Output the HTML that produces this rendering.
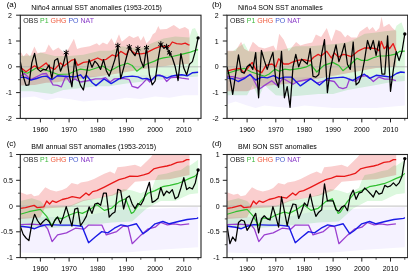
<!DOCTYPE html><html><head><meta charset="utf-8"><style>html,body{margin:0;padding:0;background:#fff;width:408px;height:274px;overflow:hidden}svg{position:absolute;left:0;top:0}text{font-family:"Liberation Sans",sans-serif;font-size:7px}</style></head><body>
<svg width="408" height="274" viewBox="0 0 408 274">
<clipPath id="clipa"><rect x="20.3" y="15.2" width="180.7" height="103.2"/></clipPath>
<g clip-path="url(#clipa)">
<polygon points="20.3,77.1 198.1,74.5 198.1,95.2 183.8,95.2 169.4,97.8 155.1,96.5 140.8,99.1 126.4,97.8 112.1,100.3 97.7,100.3 83.4,101.6 69.1,99.1 57.6,97.8 46.1,100.3 34.6,96.5 20.3,97.8" fill="rgb(245,242,255)" style="mix-blend-mode:multiply"/>
<polygon points="20.3,56.0 34.6,55.2 40.4,52.6 54.7,56.0 69.1,56.0 83.4,54.7 100.0,50.8 110.9,50.8 121.8,46.2 130.4,47.5 140.8,48.2 152.2,43.1 163.7,38.4 175.2,36.4 189.5,37.4 192.1,28.9 195.0,28.1 198.1,34.5 198.1,76.6 183.8,77.6 155.1,80.2 126.4,83.6 109.2,86.2 97.7,86.2 86.3,87.4 74.8,88.7 63.3,90.0 51.9,93.9 40.4,92.6 31.8,91.3 20.3,91.3" fill="rgb(220,248,222)" style="mix-blend-mode:multiply"/>
<polygon points="20.3,50.9 23.5,56.5 26.6,53.1 30.1,56.5 34.4,46.4 37.5,53.1 45.3,52.1 48.7,44.4 53.0,50.8 58.4,47.5 64.2,53.1 68.5,48.7 73.9,38.7 77.1,49.0 80.8,47.7 89.7,46.2 96.9,43.3 99.2,45.4 102.9,42.5 107.2,44.6 111.5,38.2 114.7,44.6 119.0,34.3 121.8,41.8 129.3,35.8 133.6,37.9 138.2,36.1 140.8,40.7 143.6,36.1 146.5,43.6 149.9,40.0 152.8,34.3 155.4,32.5 158.3,26.0 160.0,29.6 166.6,28.9 173.8,25.0 179.5,28.9 184.9,27.1 188.7,29.6 189.5,35.3 189.5,63.7 169.4,65.5 140.8,69.4 112.1,74.5 83.4,78.4 69.1,79.7 57.6,82.3 46.1,82.8 34.6,84.9 20.3,85.4" fill="rgb(250,206,206)" style="mix-blend-mode:multiply"/>
<line x1="20.3" y1="66.8" x2="201.0" y2="66.8" stroke="#b0b0b0" stroke-width="0.8"/>
<polyline points="20.3,76.3 24.3,73.5 30.9,79.7 42.1,74.0 46.4,73.5 48.7,77.4 53.0,84.9 57.6,85.4 61.3,86.9 65.9,76.1 69.9,82.3 74.8,78.9 80.5,82.0 89.4,80.5 95.4,78.9 101.2,78.9 105.5,77.6 110.1,82.0 114.4,78.9 123.3,78.4 129.3,79.7 132.2,86.4 137.9,88.0 142.5,83.6 146.8,78.9 149.7,82.0 155.4,76.1 159.7,74.8 163.4,76.9 166.6,81.5 170.9,77.6 176.3,77.1 181.8,78.2 189.0,79.2" fill="none" stroke="#9a3fd0" stroke-width="1.3" stroke-linejoin="round"/>
<polyline points="20.3,77.4 25.5,77.4 30.9,80.2 36.6,78.5 42.1,76.6 46.4,76.1 51.9,79.7 57.3,75.8 63.9,76.3 74.8,76.9 80.5,74.8 83.4,78.4 86.3,75.3 92.3,82.8 96.0,85.6 104.1,78.9 111.2,83.6 119.0,78.9 124.7,76.9 132.2,76.1 137.9,76.9 142.5,78.9 146.8,78.4 151.1,80.5 156.8,75.3 162.6,76.1 166.9,78.2 170.9,76.3 176.3,75.3 181.8,74.8 187.2,75.8 192.7,72.7 198.1,72.2" fill="none" stroke="#1a1ae6" stroke-width="1.4" stroke-linejoin="round"/>
<polyline points="20.3,70.9 27.5,73.2 37.5,67.3 46.4,70.3 58.2,74.5 68.5,74.0 75.7,70.7 80.5,69.1 89.4,70.3 102.6,66.0 110.1,71.0 119.0,66.0 127.6,63.2 132.2,65.5 136.8,71.2 145.6,64.5 154.5,61.1 158.5,59.1 163.4,57.8 172.3,56.5 181.5,54.4 190.4,52.1 197.0,49.8 198.1,49.8" fill="none" stroke="#2fbf2f" stroke-width="1.2" stroke-linejoin="round"/>
<polyline points="20.3,67.3 26.0,71.7 34.6,65.8 38.7,68.6 46.1,62.9 49.0,66.8 54.7,69.4 60.5,62.9 63.9,66.0 71.9,60.1 74.8,59.4 77.7,65.3 83.4,62.4 89.1,61.6 97.7,58.0 102.0,60.1 106.3,59.3 112.1,54.9 116.4,56.5 120.7,51.3 126.4,54.9 129.3,49.0 135.0,53.4 140.8,53.9 145.6,53.1 154.5,48.7 159.7,46.7 163.4,46.4 169.4,46.2 172.3,42.0 176.6,43.6 181.5,44.1 185.2,43.1 188.1,44.6 189.5,45.1" fill="none" stroke="#e81818" stroke-width="1.3" stroke-linejoin="round"/>
<polyline points="20.3,61.6 23.2,76.3 26.0,85.4 28.9,84.9 31.8,62.9 34.6,53.4 37.5,68.9 40.4,71.4 43.2,69.4 46.1,69.9 49.0,65.0 51.9,78.4 54.7,60.4 57.6,58.5 60.5,71.2 63.3,64.2 66.2,52.6 69.1,74.5 71.9,86.9 74.8,58.8 77.7,77.1 80.5,85.4 83.4,90.0 86.3,74.5 89.1,59.6 92.0,67.3 94.9,61.1 97.7,64.2 100.6,69.4 103.5,59.6 106.3,70.7 109.2,76.1 112.1,68.1 115.0,59.1 117.8,45.6 120.7,78.7 123.6,68.1 126.4,57.5 129.3,46.9 132.2,52.1 135.0,55.7 137.9,48.5 140.8,60.4 143.6,67.3 146.5,47.7 149.4,74.5 152.2,84.9 155.1,81.0 158.0,60.1 160.8,44.1 163.7,48.2 166.6,46.7 169.4,52.9 172.3,57.8 175.2,66.8 178.1,80.5 180.9,53.6 183.8,68.1 186.7,74.8 189.5,64.2 192.4,61.6 195.3,51.3 198.1,37.9" fill="none" stroke="#000" stroke-width="1.25" stroke-linejoin="round"/>
<circle cx="198.1" cy="37.9" r="1.7" fill="#000"/>
<line x1="66.19" y1="49.71" x2="66.19" y2="55.51" stroke="#000" stroke-width="1.0"/>
<line x1="63.68" y1="51.16" x2="68.70" y2="54.06" stroke="#000" stroke-width="1.0"/>
<line x1="63.68" y1="54.06" x2="68.70" y2="51.16" stroke="#000" stroke-width="1.0"/>
<line x1="117.82" y1="42.74" x2="117.82" y2="48.54" stroke="#000" stroke-width="1.0"/>
<line x1="115.31" y1="44.19" x2="120.33" y2="47.09" stroke="#000" stroke-width="1.0"/>
<line x1="115.31" y1="47.09" x2="120.33" y2="44.19" stroke="#000" stroke-width="1.0"/>
<line x1="129.29" y1="44.03" x2="129.29" y2="49.83" stroke="#000" stroke-width="1.0"/>
<line x1="126.78" y1="45.48" x2="131.81" y2="48.38" stroke="#000" stroke-width="1.0"/>
<line x1="126.78" y1="48.38" x2="131.81" y2="45.48" stroke="#000" stroke-width="1.0"/>
<line x1="137.90" y1="45.58" x2="137.90" y2="51.38" stroke="#000" stroke-width="1.0"/>
<line x1="135.39" y1="47.03" x2="140.41" y2="49.93" stroke="#000" stroke-width="1.0"/>
<line x1="135.39" y1="49.93" x2="140.41" y2="47.03" stroke="#000" stroke-width="1.0"/>
<line x1="146.50" y1="44.81" x2="146.50" y2="50.61" stroke="#000" stroke-width="1.0"/>
<line x1="143.99" y1="46.26" x2="149.01" y2="49.16" stroke="#000" stroke-width="1.0"/>
<line x1="143.99" y1="49.16" x2="149.01" y2="46.26" stroke="#000" stroke-width="1.0"/>
<line x1="160.84" y1="41.20" x2="160.84" y2="47.00" stroke="#000" stroke-width="1.0"/>
<line x1="158.33" y1="42.65" x2="163.36" y2="45.55" stroke="#000" stroke-width="1.0"/>
<line x1="158.33" y1="45.55" x2="163.36" y2="42.65" stroke="#000" stroke-width="1.0"/>
<line x1="166.58" y1="43.78" x2="166.58" y2="49.58" stroke="#000" stroke-width="1.0"/>
<line x1="164.07" y1="45.23" x2="169.09" y2="48.13" stroke="#000" stroke-width="1.0"/>
<line x1="164.07" y1="48.13" x2="169.09" y2="45.23" stroke="#000" stroke-width="1.0"/>
<line x1="169.45" y1="49.97" x2="169.45" y2="55.77" stroke="#000" stroke-width="1.0"/>
<line x1="166.94" y1="51.42" x2="171.96" y2="54.32" stroke="#000" stroke-width="1.0"/>
<line x1="166.94" y1="54.32" x2="171.96" y2="51.42" stroke="#000" stroke-width="1.0"/>
</g>
<rect x="20.3" y="15.2" width="180.7" height="103.2" fill="none" stroke="#222" stroke-width="1.1"/>
<line x1="16.1" y1="118.4" x2="20.3" y2="118.4" stroke="#222" stroke-width="1"/>
<text x="12.0" y="120.9" text-anchor="end">-2</text>
<line x1="16.1" y1="92.6" x2="20.3" y2="92.6" stroke="#222" stroke-width="1"/>
<text x="12.0" y="95.1" text-anchor="end">-1</text>
<line x1="16.1" y1="66.8" x2="20.3" y2="66.8" stroke="#222" stroke-width="1"/>
<text x="12.0" y="69.3" text-anchor="end">0</text>
<line x1="16.1" y1="41.0" x2="20.3" y2="41.0" stroke="#222" stroke-width="1"/>
<text x="12.0" y="43.5" text-anchor="end">1</text>
<line x1="16.1" y1="15.2" x2="20.3" y2="15.2" stroke="#222" stroke-width="1"/>
<text x="12.0" y="17.7" text-anchor="end">2</text>
<line x1="18.1" y1="105.5" x2="20.3" y2="105.5" stroke="#222" stroke-width="0.8"/>
<line x1="18.1" y1="79.7" x2="20.3" y2="79.7" stroke="#222" stroke-width="0.8"/>
<line x1="18.1" y1="53.9" x2="20.3" y2="53.9" stroke="#222" stroke-width="0.8"/>
<line x1="18.1" y1="28.1" x2="20.3" y2="28.1" stroke="#222" stroke-width="0.8"/>
<line x1="26.0" y1="118.4" x2="26.0" y2="120.60000000000001" stroke="#222" stroke-width="0.8"/>
<line x1="40.4" y1="118.4" x2="40.4" y2="122.4" stroke="#222" stroke-width="1"/>
<text x="40.4" y="131.7" text-anchor="middle">1960</text>
<line x1="54.7" y1="118.4" x2="54.7" y2="120.60000000000001" stroke="#222" stroke-width="0.8"/>
<line x1="69.1" y1="118.4" x2="69.1" y2="122.4" stroke="#222" stroke-width="1"/>
<text x="69.1" y="131.7" text-anchor="middle">1970</text>
<line x1="83.4" y1="118.4" x2="83.4" y2="120.60000000000001" stroke="#222" stroke-width="0.8"/>
<line x1="97.7" y1="118.4" x2="97.7" y2="122.4" stroke="#222" stroke-width="1"/>
<text x="97.7" y="131.7" text-anchor="middle">1980</text>
<line x1="112.1" y1="118.4" x2="112.1" y2="120.60000000000001" stroke="#222" stroke-width="0.8"/>
<line x1="126.4" y1="118.4" x2="126.4" y2="122.4" stroke="#222" stroke-width="1"/>
<text x="126.4" y="131.7" text-anchor="middle">1990</text>
<line x1="140.8" y1="118.4" x2="140.8" y2="120.60000000000001" stroke="#222" stroke-width="0.8"/>
<line x1="155.1" y1="118.4" x2="155.1" y2="122.4" stroke="#222" stroke-width="1"/>
<text x="155.1" y="131.7" text-anchor="middle">2000</text>
<line x1="169.4" y1="118.4" x2="169.4" y2="120.60000000000001" stroke="#222" stroke-width="0.8"/>
<line x1="183.8" y1="118.4" x2="183.8" y2="122.4" stroke="#222" stroke-width="1"/>
<text x="183.8" y="131.7" text-anchor="middle">2010</text>
<line x1="198.1" y1="118.4" x2="198.1" y2="120.60000000000001" stroke="#222" stroke-width="0.8"/>
<text x="6.7" y="6.7" style="font-size:8px">(a)</text>
<text x="31.3" y="10.0">Niño4 annual SST anomalies (1953-2015)</text>
<text x="23.3" y="22.6"><tspan fill="#222">OBS </tspan><tspan fill="#3cb83c">P1 </tspan><tspan fill="#f05a3c">GHG </tspan><tspan fill="#4a5fd0">PO </tspan><tspan fill="#8a3cc8">NAT</tspan></text>
<clipPath id="clipb"><rect x="227.0" y="15.2" width="180.7" height="103.2"/></clipPath>
<g clip-path="url(#clipb)">
<polygon points="227.0,78.4 404.8,75.8 404.8,105.5 390.5,106.8 376.1,108.1 361.8,108.1 347.5,108.1 333.1,108.1 318.8,106.8 304.4,105.5 290.1,108.1 275.8,106.8 264.3,105.5 255.7,108.1 247.1,105.5 235.6,101.6 227.0,104.2" fill="rgb(245,242,255)" style="mix-blend-mode:multiply"/>
<polygon points="227.0,51.3 232.7,51.3 238.5,46.9 244.2,43.3 248.5,51.3 261.4,52.1 281.5,50.0 295.8,46.2 310.2,46.2 324.5,44.9 338.9,43.6 347.5,42.3 356.1,38.4 364.7,33.8 376.1,32.5 384.8,31.2 394.8,30.2 396.5,25.8 401.4,22.2 404.8,31.5 404.8,81.0 390.5,82.3 376.1,84.9 361.8,87.4 347.5,90.0 333.1,93.9 318.8,93.9 304.4,95.2 290.1,96.5 275.8,95.2 264.3,84.9 258.6,97.8 252.8,84.9 247.1,95.2 227.0,95.2" fill="rgb(220,248,222)" style="mix-blend-mode:multiply"/>
<polygon points="227.0,50.8 235.6,50.8 241.1,41.8 244.2,48.7 248.5,51.3 252.8,41.8 258.8,46.9 264.6,48.5 269.2,46.9 273.5,45.4 276.3,50.8 279.2,33.8 283.8,39.7 288.7,51.3 296.1,42.0 300.4,45.6 305.0,44.1 312.2,42.5 315.9,34.5 321.1,36.9 326.8,28.1 331.4,41.3 335.7,29.4 340.9,31.7 345.2,37.6 347.5,34.8 351.2,37.6 356.9,37.6 359.8,31.7 367.3,26.6 369.3,29.9 372.7,27.1 375.9,31.5 379.3,28.1 381.6,16.7 383.6,27.1 389.1,23.7 392.5,28.1 394.8,29.9 396.2,30.7 396.2,66.8 376.1,68.1 347.5,73.2 318.8,78.4 290.1,83.6 261.4,86.2 247.1,91.3 227.0,91.3" fill="rgb(250,206,206)" style="mix-blend-mode:multiply"/>
<line x1="227.0" y1="66.8" x2="407.7" y2="66.8" stroke="#b0b0b0" stroke-width="0.8"/>
<polyline points="227.0,76.3 232.7,76.6 239.9,78.7 245.6,77.1 250.8,74.5 258.8,89.5 264.6,85.4 271.7,80.7 277.2,85.6 282.9,78.4 287.2,80.7 293.0,84.3 297.6,81.5 305.0,80.0 310.8,78.7 316.8,83.1 326.8,80.0 334.3,81.5 338.9,87.4 342.9,88.7 346.6,87.4 349.5,79.2 355.5,81.5 361.5,76.3 367.3,75.6 373.3,81.5 379.0,77.1 384.8,79.2 390.8,79.2 395.9,80.7" fill="none" stroke="#9a3fd0" stroke-width="1.3" stroke-linejoin="round"/>
<polyline points="227.0,77.9 232.7,78.7 238.2,81.5 244.2,78.7 249.9,74.5 255.7,80.0 261.7,77.1 267.4,77.9 273.5,75.6 279.2,78.7 284.9,77.1 291.5,77.1 300.4,85.9 310.8,78.7 319.6,85.1 326.8,78.7 334.3,77.9 342.9,77.1 346.0,77.9 352.6,80.7 358.4,77.1 364.4,74.2 369.8,78.4 376.1,75.3 384.8,76.3 390.8,77.1 396.5,73.5 400.8,72.0 404.8,72.5" fill="none" stroke="#1a1ae6" stroke-width="1.4" stroke-linejoin="round"/>
<polyline points="227.0,73.5 233.9,71.2 244.2,68.3 251.4,72.0 257.4,74.0 264.6,76.3 269.2,74.0 274.9,69.1 279.2,71.2 284.9,69.1 290.1,69.8 300.4,68.3 306.5,66.8 310.8,64.6 316.8,72.0 323.9,65.4 332.8,62.4 337.1,64.6 338.9,65.5 342.9,70.7 349.5,65.5 356.9,58.3 361.5,60.4 367.3,60.4 373.3,57.8 379.0,56.0 384.8,56.0 390.8,55.2 396.5,53.9 399.7,51.3 404.8,51.1" fill="none" stroke="#2fbf2f" stroke-width="1.2" stroke-linejoin="round"/>
<polyline points="227.0,71.2 232.4,69.6 239.6,68.3 244.2,72.7 252.2,62.4 255.7,69.6 261.7,72.7 266.0,65.3 272.0,64.0 275.8,66.8 278.6,58.8 283.8,64.0 288.7,64.0 291.8,62.4 297.6,60.4 303.6,59.6 310.2,61.1 313.6,57.3 318.2,54.4 321.1,56.0 326.8,51.3 331.4,58.0 334.3,52.9 338.6,57.3 342.9,54.4 345.2,54.7 351.2,56.7 358.4,50.8 364.4,48.0 370.4,48.0 376.1,48.7 379.0,50.8 381.3,41.3 384.2,48.7 387.0,45.6 389.6,48.7 393.1,43.6 395.9,50.8" fill="none" stroke="#e81818" stroke-width="1.3" stroke-linejoin="round"/>
<polyline points="227.0,66.8 229.9,78.4 232.7,94.4 235.6,74.5 238.5,54.9 241.3,72.0 244.2,73.2 247.1,66.8 249.9,64.2 252.8,69.4 255.7,52.6 258.6,97.8 261.4,50.5 264.3,60.4 267.2,69.4 270.0,60.4 272.9,52.4 275.8,79.7 278.6,87.4 281.5,51.3 284.4,97.8 287.2,86.7 290.1,107.3 293.0,66.8 295.8,54.4 298.7,66.8 301.6,59.1 304.4,61.6 307.3,64.0 310.2,48.5 313.0,76.3 315.9,77.1 318.8,74.5 321.7,53.9 324.5,39.7 327.4,92.6 330.3,69.4 333.1,56.5 336.0,44.9 338.9,61.6 341.7,53.9 344.6,43.6 347.5,64.5 350.3,69.4 353.2,42.0 356.1,84.9 358.9,82.3 361.8,74.5 364.7,59.1 367.5,40.5 370.4,49.5 373.3,40.5 376.1,55.4 379.0,41.0 381.9,74.0 384.8,74.0 387.6,35.8 390.5,91.3 393.4,69.4 396.2,51.3 399.1,60.6 402.0,51.3 404.8,34.0" fill="none" stroke="#000" stroke-width="1.25" stroke-linejoin="round"/>
<circle cx="404.8" cy="34.0" r="1.7" fill="#000"/>
</g>
<rect x="227.0" y="15.2" width="180.7" height="103.2" fill="none" stroke="#222" stroke-width="1.1"/>
<line x1="222.8" y1="118.4" x2="227.0" y2="118.4" stroke="#222" stroke-width="1"/>
<text x="218.7" y="120.9" text-anchor="end">-2</text>
<line x1="222.8" y1="92.6" x2="227.0" y2="92.6" stroke="#222" stroke-width="1"/>
<text x="218.7" y="95.1" text-anchor="end">-1</text>
<line x1="222.8" y1="66.8" x2="227.0" y2="66.8" stroke="#222" stroke-width="1"/>
<text x="218.7" y="69.3" text-anchor="end">0</text>
<line x1="222.8" y1="41.0" x2="227.0" y2="41.0" stroke="#222" stroke-width="1"/>
<text x="218.7" y="43.5" text-anchor="end">1</text>
<line x1="222.8" y1="15.2" x2="227.0" y2="15.2" stroke="#222" stroke-width="1"/>
<text x="218.7" y="17.7" text-anchor="end">2</text>
<line x1="224.8" y1="105.5" x2="227.0" y2="105.5" stroke="#222" stroke-width="0.8"/>
<line x1="224.8" y1="79.7" x2="227.0" y2="79.7" stroke="#222" stroke-width="0.8"/>
<line x1="224.8" y1="53.9" x2="227.0" y2="53.9" stroke="#222" stroke-width="0.8"/>
<line x1="224.8" y1="28.1" x2="227.0" y2="28.1" stroke="#222" stroke-width="0.8"/>
<line x1="232.7" y1="118.4" x2="232.7" y2="120.60000000000001" stroke="#222" stroke-width="0.8"/>
<line x1="247.1" y1="118.4" x2="247.1" y2="122.4" stroke="#222" stroke-width="1"/>
<text x="247.1" y="131.7" text-anchor="middle">1960</text>
<line x1="261.4" y1="118.4" x2="261.4" y2="120.60000000000001" stroke="#222" stroke-width="0.8"/>
<line x1="275.8" y1="118.4" x2="275.8" y2="122.4" stroke="#222" stroke-width="1"/>
<text x="275.8" y="131.7" text-anchor="middle">1970</text>
<line x1="290.1" y1="118.4" x2="290.1" y2="120.60000000000001" stroke="#222" stroke-width="0.8"/>
<line x1="304.4" y1="118.4" x2="304.4" y2="122.4" stroke="#222" stroke-width="1"/>
<text x="304.4" y="131.7" text-anchor="middle">1980</text>
<line x1="318.8" y1="118.4" x2="318.8" y2="120.60000000000001" stroke="#222" stroke-width="0.8"/>
<line x1="333.1" y1="118.4" x2="333.1" y2="122.4" stroke="#222" stroke-width="1"/>
<text x="333.1" y="131.7" text-anchor="middle">1990</text>
<line x1="347.5" y1="118.4" x2="347.5" y2="120.60000000000001" stroke="#222" stroke-width="0.8"/>
<line x1="361.8" y1="118.4" x2="361.8" y2="122.4" stroke="#222" stroke-width="1"/>
<text x="361.8" y="131.7" text-anchor="middle">2000</text>
<line x1="376.1" y1="118.4" x2="376.1" y2="120.60000000000001" stroke="#222" stroke-width="0.8"/>
<line x1="390.5" y1="118.4" x2="390.5" y2="122.4" stroke="#222" stroke-width="1"/>
<text x="390.5" y="131.7" text-anchor="middle">2010</text>
<line x1="404.8" y1="118.4" x2="404.8" y2="120.60000000000001" stroke="#222" stroke-width="0.8"/>
<text x="212.0" y="6.7" style="font-size:8px">(b)</text>
<text x="238.0" y="10.0">Niño4 SON SST anomalies</text>
<text x="230.0" y="22.6"><tspan fill="#222">OBS </tspan><tspan fill="#3cb83c">P1 </tspan><tspan fill="#f05a3c">GHG </tspan><tspan fill="#4a5fd0">PO </tspan><tspan fill="#8a3cc8">NAT</tspan></text>
<clipPath id="clipc"><rect x="20.3" y="154.5" width="180.7" height="103.10000000000002"/></clipPath>
<g clip-path="url(#clipc)">
<polygon points="20.3,217.4 83.4,216.4 112.1,210.2 198.1,207.1 198.1,247.3 155.1,249.9 126.4,252.4 83.4,253.5 54.7,253.5 20.3,252.4" fill="rgb(245,242,255)" style="mix-blend-mode:multiply"/>
<polygon points="20.3,200.9 31.8,198.3 40.4,200.9 46.1,207.1 69.1,206.1 83.4,199.9 97.7,198.3 112.1,194.7 123.6,189.0 132.2,190.6 140.8,193.2 152.2,188.0 155.1,180.3 158.0,175.1 166.6,173.6 175.2,171.0 180.9,170.0 187.5,165.3 189.5,165.8 194.7,162.2 198.1,159.7 198.1,193.2 189.5,194.2 175.2,200.9 160.8,200.9 146.5,208.6 132.2,221.5 112.1,222.5 83.4,225.6 54.7,227.7 20.3,226.7" fill="rgb(220,248,222)" style="mix-blend-mode:multiply"/>
<polygon points="20.3,192.3 26.9,194.7 31.2,193.8 34.1,196.3 38.7,195.2 45.3,187.2 50.4,190.1 56.2,191.6 62.2,190.1 66.5,188.0 71.6,182.9 77.7,184.4 80.8,182.6 88.0,181.2 94.0,178.9 98.3,176.8 104.3,173.8 110.1,171.6 114.7,173.8 117.5,167.2 124.7,166.5 135.0,164.8 140.8,166.9 146.5,161.6 150.8,157.2 155.1,151.9 189.5,149.3 189.5,175.1 169.4,179.2 152.2,180.3 135.0,181.8 126.4,190.6 112.1,195.7 97.7,198.3 83.4,200.9 69.1,207.1 44.7,208.6 40.4,217.4 20.3,218.9" fill="rgb(250,206,206)" style="mix-blend-mode:multiply"/>
<line x1="20.3" y1="206.1" x2="201.0" y2="206.1" stroke="#b0b0b0" stroke-width="0.8"/>
<polyline points="20.3,224.6 31.8,224.1 44.7,225.1 47.8,229.2 52.1,241.6 57.6,234.9 66.5,232.9 75.4,228.2 84.0,229.2 88.6,225.1 101.8,225.1 106.3,234.9 116.7,231.6 123.3,226.1 128.1,226.7 132.2,243.7 141.1,234.9 147.7,229.2 155.1,227.2 160.6,222.5 167.4,224.9 174.0,223.8 180.6,224.9 189.2,223.8" fill="none" stroke="#9a3fd0" stroke-width="1.3" stroke-linejoin="round"/>
<polyline points="20.3,226.2 28.9,227.2 34.6,228.7 40.4,226.2 46.7,224.6 62.2,225.1 71.9,225.1 82.0,226.2 88.6,242.7 95.2,237.0 101.8,231.6 107.8,232.9 114.4,228.2 121.0,224.9 127.6,226.1 136.5,223.8 143.1,233.8 147.7,230.5 155.1,223.8 162.9,221.5 169.4,223.8 178.3,221.5 187.2,219.5 197.0,218.4 198.1,217.4" fill="none" stroke="#1a1ae6" stroke-width="1.4" stroke-linejoin="round"/>
<polyline points="20.3,214.3 28.9,211.7 40.4,209.4 46.7,216.4 51.9,225.6 56.2,217.9 62.2,218.7 69.3,215.0 77.7,212.0 82.3,213.4 89.7,209.7 96.9,204.6 104.3,210.4 111.5,208.3 119.0,201.6 125.6,198.7 131.3,213.4 133.6,212.2 140.8,201.4 147.9,193.2 155.1,190.6 162.6,186.7 169.7,185.4 177.2,183.7 182.9,181.5 189.0,178.6 194.7,176.4 198.1,173.4" fill="none" stroke="#2fbf2f" stroke-width="1.2" stroke-linejoin="round"/>
<polyline points="20.3,208.4 25.5,207.6 34.1,205.4 37.2,207.6 43.8,206.9 46.7,201.0 49.6,204.0 52.4,200.9 56.2,202.4 62.2,199.5 67.9,198.1 72.2,196.6 80.0,198.1 86.0,193.0 88.9,195.2 92.6,191.6 96.9,190.7 104.3,187.1 111.5,183.4 119.0,179.7 124.7,178.2 129.9,176.2 137.6,176.4 143.6,174.9 148.5,173.4 153.7,168.9 159.4,167.4 166.9,166.0 171.2,164.8 177.2,162.4 182.9,161.7 186.7,159.7 189.5,159.7" fill="none" stroke="#e81818" stroke-width="1.3" stroke-linejoin="round"/>
<polyline points="20.3,226.2 23.2,234.4 26.0,238.0 28.9,240.6 31.8,224.1 34.6,214.3 37.5,220.5 40.4,224.6 43.2,221.5 46.1,218.9 49.0,221.5 51.9,226.7 54.7,220.5 57.6,216.9 60.5,223.6 63.3,216.4 66.2,206.6 69.1,216.4 71.9,226.2 74.8,209.1 77.7,208.1 80.5,225.6 83.4,221.5 86.3,216.4 89.1,206.8 92.0,213.4 94.9,204.0 97.7,203.1 100.6,205.3 103.5,193.2 106.3,193.2 109.2,217.1 112.1,213.8 115.0,211.9 117.8,189.3 120.7,190.6 123.6,209.0 126.4,198.0 129.3,195.9 132.2,204.0 135.0,208.6 137.9,203.5 140.8,205.0 143.6,199.9 146.5,190.6 149.4,182.3 152.2,202.4 155.1,200.9 158.0,198.3 160.8,187.5 163.7,195.7 166.6,191.1 169.4,193.2 172.3,189.6 175.2,198.8 178.1,196.8 180.9,188.0 183.8,177.7 186.7,189.6 189.5,187.5 192.4,189.0 195.3,182.9 198.1,170.0" fill="none" stroke="#000" stroke-width="1.25" stroke-linejoin="round"/>
<circle cx="198.1" cy="170.0" r="1.7" fill="#000"/>
</g>
<rect x="20.3" y="154.5" width="180.7" height="103.10000000000002" fill="none" stroke="#222" stroke-width="1.1"/>
<line x1="16.1" y1="257.6" x2="20.3" y2="257.6" stroke="#222" stroke-width="1"/>
<text x="12.9" y="260.1" text-anchor="end">-1</text>
<line x1="16.1" y1="231.8" x2="20.3" y2="231.8" stroke="#222" stroke-width="1"/>
<text x="12.9" y="234.3" text-anchor="end">-0.5</text>
<line x1="16.1" y1="206.1" x2="20.3" y2="206.1" stroke="#222" stroke-width="1"/>
<text x="12.9" y="208.6" text-anchor="end">0</text>
<line x1="16.1" y1="180.3" x2="20.3" y2="180.3" stroke="#222" stroke-width="1"/>
<text x="12.9" y="182.8" text-anchor="end">0.5</text>
<line x1="16.1" y1="154.5" x2="20.3" y2="154.5" stroke="#222" stroke-width="1"/>
<text x="12.9" y="157.0" text-anchor="end">1</text>
<line x1="18.1" y1="244.7" x2="20.3" y2="244.7" stroke="#222" stroke-width="0.8"/>
<line x1="18.1" y1="218.9" x2="20.3" y2="218.9" stroke="#222" stroke-width="0.8"/>
<line x1="18.1" y1="193.2" x2="20.3" y2="193.2" stroke="#222" stroke-width="0.8"/>
<line x1="18.1" y1="167.4" x2="20.3" y2="167.4" stroke="#222" stroke-width="0.8"/>
<line x1="26.0" y1="257.6" x2="26.0" y2="259.8" stroke="#222" stroke-width="0.8"/>
<line x1="40.4" y1="257.6" x2="40.4" y2="261.6" stroke="#222" stroke-width="1"/>
<text x="40.4" y="270.9" text-anchor="middle">1960</text>
<line x1="54.7" y1="257.6" x2="54.7" y2="259.8" stroke="#222" stroke-width="0.8"/>
<line x1="69.1" y1="257.6" x2="69.1" y2="261.6" stroke="#222" stroke-width="1"/>
<text x="69.1" y="270.9" text-anchor="middle">1970</text>
<line x1="83.4" y1="257.6" x2="83.4" y2="259.8" stroke="#222" stroke-width="0.8"/>
<line x1="97.7" y1="257.6" x2="97.7" y2="261.6" stroke="#222" stroke-width="1"/>
<text x="97.7" y="270.9" text-anchor="middle">1980</text>
<line x1="112.1" y1="257.6" x2="112.1" y2="259.8" stroke="#222" stroke-width="0.8"/>
<line x1="126.4" y1="257.6" x2="126.4" y2="261.6" stroke="#222" stroke-width="1"/>
<text x="126.4" y="270.9" text-anchor="middle">1990</text>
<line x1="140.8" y1="257.6" x2="140.8" y2="259.8" stroke="#222" stroke-width="0.8"/>
<line x1="155.1" y1="257.6" x2="155.1" y2="261.6" stroke="#222" stroke-width="1"/>
<text x="155.1" y="270.9" text-anchor="middle">2000</text>
<line x1="169.4" y1="257.6" x2="169.4" y2="259.8" stroke="#222" stroke-width="0.8"/>
<line x1="183.8" y1="257.6" x2="183.8" y2="261.6" stroke="#222" stroke-width="1"/>
<text x="183.8" y="270.9" text-anchor="middle">2010</text>
<line x1="198.1" y1="257.6" x2="198.1" y2="259.8" stroke="#222" stroke-width="0.8"/>
<text x="6.7" y="146.0" style="font-size:8px">(c)</text>
<text x="31.3" y="149.3">BMI annual SST anomalies (1953-2015)</text>
<text x="23.3" y="161.9"><tspan fill="#222">OBS </tspan><tspan fill="#3cb83c">P1 </tspan><tspan fill="#f05a3c">GHG </tspan><tspan fill="#4a5fd0">PO </tspan><tspan fill="#8a3cc8">NAT</tspan></text>
<clipPath id="clipd"><rect x="227.0" y="154.5" width="180.7" height="103.10000000000002"/></clipPath>
<g clip-path="url(#clipd)">
<polygon points="227.0,217.4 290.1,216.4 318.8,210.2 404.8,207.1 404.8,247.3 361.8,249.9 333.1,252.4 290.1,253.5 261.4,253.5 227.0,252.4" fill="rgb(245,242,255)" style="mix-blend-mode:multiply"/>
<polygon points="227.0,200.9 238.5,198.3 247.1,200.9 252.8,207.1 275.8,206.1 290.1,199.9 304.4,198.3 318.8,194.7 330.3,189.0 338.9,190.6 347.5,193.2 358.9,188.0 361.8,180.3 364.7,175.1 373.3,173.6 381.9,171.0 387.6,170.0 394.2,165.3 396.2,165.8 401.4,162.2 404.8,159.7 404.8,193.2 396.2,194.2 381.9,200.9 367.5,200.9 353.2,208.6 338.9,221.5 318.8,222.5 290.1,225.6 261.4,227.7 227.0,226.7" fill="rgb(220,248,222)" style="mix-blend-mode:multiply"/>
<polygon points="227.0,192.3 233.6,194.7 237.9,193.8 240.8,196.3 245.4,195.2 252.0,187.2 257.1,190.1 262.9,191.6 268.9,190.1 273.2,188.0 278.3,182.9 284.4,184.4 287.5,182.6 294.7,181.2 300.7,178.9 305.0,176.8 311.0,173.8 316.8,171.6 321.4,173.8 324.2,167.2 331.4,166.5 341.7,164.8 347.5,166.9 353.2,161.6 357.5,157.2 361.8,151.9 396.2,149.3 396.2,175.1 376.1,179.2 358.9,180.3 341.7,181.8 333.1,190.6 318.8,195.7 304.4,198.3 290.1,200.9 275.8,207.1 251.4,208.6 247.1,217.4 227.0,218.9" fill="rgb(250,206,206)" style="mix-blend-mode:multiply"/>
<line x1="227.0" y1="206.1" x2="407.7" y2="206.1" stroke="#b0b0b0" stroke-width="0.8"/>
<polyline points="227.0,224.6 238.5,224.1 251.4,225.1 254.5,229.2 258.8,241.6 264.3,234.9 273.2,232.9 282.1,228.2 290.7,229.2 295.3,225.1 308.5,225.1 313.0,234.9 323.4,231.6 330.0,226.1 334.8,226.7 338.9,243.7 347.8,234.9 354.4,229.2 361.8,227.2 367.3,222.5 374.1,224.9 380.7,223.8 387.3,224.9 395.9,223.8" fill="none" stroke="#9a3fd0" stroke-width="1.3" stroke-linejoin="round"/>
<polyline points="227.0,226.2 235.6,227.2 241.3,228.7 247.1,226.2 253.4,224.6 268.9,225.1 278.6,225.1 288.7,226.2 295.3,242.7 301.9,237.0 308.5,231.6 314.5,232.9 321.1,228.2 327.7,224.9 334.3,226.1 343.2,223.8 349.8,233.8 354.4,230.5 361.8,223.8 369.6,221.5 376.1,223.8 385.0,221.5 393.9,219.5 403.7,218.4 404.8,217.4" fill="none" stroke="#1a1ae6" stroke-width="1.4" stroke-linejoin="round"/>
<polyline points="227.0,214.3 235.6,211.7 247.1,209.4 253.4,216.4 258.6,225.6 262.9,217.9 268.9,218.7 276.0,215.0 284.4,212.0 289.0,213.4 296.4,209.7 303.6,204.6 311.0,210.4 318.2,208.3 325.7,201.6 332.3,198.7 338.0,213.4 340.3,212.2 347.5,201.4 354.6,193.2 361.8,190.6 369.3,186.7 376.4,185.4 383.9,183.7 389.6,181.5 395.7,178.6 401.4,176.4 404.8,173.4" fill="none" stroke="#2fbf2f" stroke-width="1.2" stroke-linejoin="round"/>
<polyline points="227.0,208.4 232.2,207.6 240.8,205.4 243.9,207.6 250.5,206.9 253.4,201.0 256.3,204.0 259.1,200.9 262.9,202.4 268.9,199.5 274.6,198.1 278.9,196.6 286.7,198.1 292.7,193.0 295.6,195.2 299.3,191.6 303.6,190.7 311.0,187.1 318.2,183.4 325.7,179.7 331.4,178.2 336.6,176.2 344.3,176.4 350.3,174.9 355.2,173.4 360.4,168.9 366.1,167.4 373.6,166.0 377.9,164.8 383.9,162.4 389.6,161.7 393.4,159.7 396.2,159.7" fill="none" stroke="#e81818" stroke-width="1.3" stroke-linejoin="round"/>
<polyline points="227.0,225.6 229.9,243.7 232.7,237.0 235.6,241.1 238.5,222.5 241.3,220.0 244.2,221.0 247.1,230.3 249.9,226.2 252.8,218.9 255.7,213.3 258.6,232.9 261.4,218.9 264.3,215.8 267.2,218.9 270.0,220.0 272.9,206.6 275.8,216.4 278.6,227.2 281.5,196.8 284.4,211.2 287.2,225.6 290.1,212.2 293.0,204.0 295.8,204.5 298.7,218.4 301.6,211.2 304.4,203.0 307.3,206.1 310.2,194.2 313.0,206.6 315.9,216.4 318.8,212.2 321.7,209.7 324.5,183.9 327.4,200.9 330.3,200.9 333.1,200.9 336.0,209.7 338.9,211.2 341.7,207.1 344.6,205.5 347.5,210.7 350.3,195.7 353.2,190.1 356.1,199.3 358.9,193.2 361.8,192.1 364.7,188.0 367.5,190.6 370.4,193.7 373.3,197.0 376.1,190.6 379.0,194.2 381.9,193.2 384.8,185.4 387.6,187.0 390.5,185.9 393.4,182.9 396.2,185.9 399.1,182.9 402.0,176.2 404.8,158.6" fill="none" stroke="#000" stroke-width="1.25" stroke-linejoin="round"/>
<circle cx="404.8" cy="158.6" r="1.7" fill="#000"/>
</g>
<rect x="227.0" y="154.5" width="180.7" height="103.10000000000002" fill="none" stroke="#222" stroke-width="1.1"/>
<line x1="222.8" y1="257.6" x2="227.0" y2="257.6" stroke="#222" stroke-width="1"/>
<text x="219.6" y="260.1" text-anchor="end">-1</text>
<line x1="222.8" y1="231.8" x2="227.0" y2="231.8" stroke="#222" stroke-width="1"/>
<text x="219.6" y="234.3" text-anchor="end">-0.5</text>
<line x1="222.8" y1="206.1" x2="227.0" y2="206.1" stroke="#222" stroke-width="1"/>
<text x="219.6" y="208.6" text-anchor="end">0</text>
<line x1="222.8" y1="180.3" x2="227.0" y2="180.3" stroke="#222" stroke-width="1"/>
<text x="219.6" y="182.8" text-anchor="end">0.5</text>
<line x1="222.8" y1="154.5" x2="227.0" y2="154.5" stroke="#222" stroke-width="1"/>
<text x="219.6" y="157.0" text-anchor="end">1</text>
<line x1="224.8" y1="244.7" x2="227.0" y2="244.7" stroke="#222" stroke-width="0.8"/>
<line x1="224.8" y1="218.9" x2="227.0" y2="218.9" stroke="#222" stroke-width="0.8"/>
<line x1="224.8" y1="193.2" x2="227.0" y2="193.2" stroke="#222" stroke-width="0.8"/>
<line x1="224.8" y1="167.4" x2="227.0" y2="167.4" stroke="#222" stroke-width="0.8"/>
<line x1="232.7" y1="257.6" x2="232.7" y2="259.8" stroke="#222" stroke-width="0.8"/>
<line x1="247.1" y1="257.6" x2="247.1" y2="261.6" stroke="#222" stroke-width="1"/>
<text x="247.1" y="270.9" text-anchor="middle">1960</text>
<line x1="261.4" y1="257.6" x2="261.4" y2="259.8" stroke="#222" stroke-width="0.8"/>
<line x1="275.8" y1="257.6" x2="275.8" y2="261.6" stroke="#222" stroke-width="1"/>
<text x="275.8" y="270.9" text-anchor="middle">1970</text>
<line x1="290.1" y1="257.6" x2="290.1" y2="259.8" stroke="#222" stroke-width="0.8"/>
<line x1="304.4" y1="257.6" x2="304.4" y2="261.6" stroke="#222" stroke-width="1"/>
<text x="304.4" y="270.9" text-anchor="middle">1980</text>
<line x1="318.8" y1="257.6" x2="318.8" y2="259.8" stroke="#222" stroke-width="0.8"/>
<line x1="333.1" y1="257.6" x2="333.1" y2="261.6" stroke="#222" stroke-width="1"/>
<text x="333.1" y="270.9" text-anchor="middle">1990</text>
<line x1="347.5" y1="257.6" x2="347.5" y2="259.8" stroke="#222" stroke-width="0.8"/>
<line x1="361.8" y1="257.6" x2="361.8" y2="261.6" stroke="#222" stroke-width="1"/>
<text x="361.8" y="270.9" text-anchor="middle">2000</text>
<line x1="376.1" y1="257.6" x2="376.1" y2="259.8" stroke="#222" stroke-width="0.8"/>
<line x1="390.5" y1="257.6" x2="390.5" y2="261.6" stroke="#222" stroke-width="1"/>
<text x="390.5" y="270.9" text-anchor="middle">2010</text>
<line x1="404.8" y1="257.6" x2="404.8" y2="259.8" stroke="#222" stroke-width="0.8"/>
<text x="212.0" y="146.0" style="font-size:8px">(d)</text>
<text x="238.0" y="149.3">BMI SON SST anomalies</text>
<text x="230.0" y="161.9"><tspan fill="#222">OBS </tspan><tspan fill="#3cb83c">P1 </tspan><tspan fill="#f05a3c">GHG </tspan><tspan fill="#4a5fd0">PO </tspan><tspan fill="#8a3cc8">NAT</tspan></text>
</svg></body></html>
